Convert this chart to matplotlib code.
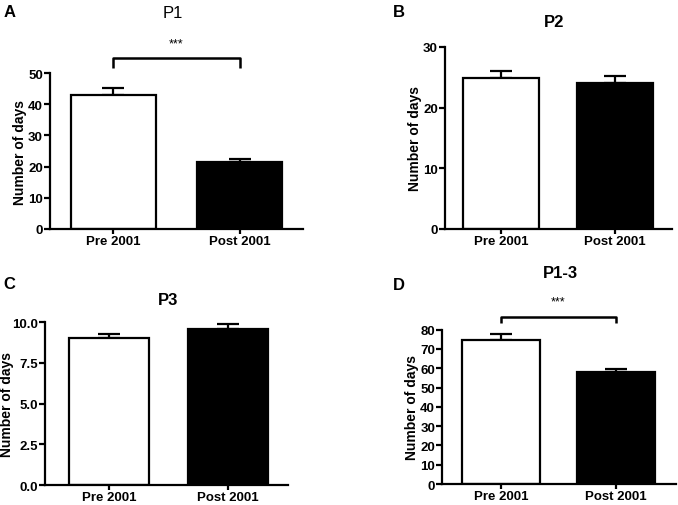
import numpy as np
import matplotlib
matplotlib.use("Agg")
import matplotlib.pyplot as plt

plt.rcParams['font.family'] = ['Liberation Sans', 'DejaVu Sans']

groups = ['Pre 2001', 'Post 2001']

# mean and error
p1_mean = [42.9, 21.4]
p1_err = [2.2, 1.0]
p2_mean = [24.9, 24.1]
p2_err = [1.1, 1.1]
p3_mean = [9.03, 9.59]
p3_err = [0.28, 0.33]
p13_mean = [74.7, 57.9]
p13_err = [2.9, 1.7]

p1_ticks = [0, 10, 20, 30, 40, 50]
p2_ticks = [0, 10, 20, 30]
p3_ticks = [0.0, 2.5, 5.0, 7.5, 10.0]
p13_ticks = [0, 10, 20, 30, 40, 50, 60, 70, 80]

fig = plt.figure(figsize=(6.78, 5.06), dpi=100)

def panel(rect, mean, err, ticks, fmt, xlim, width):
    ax = fig.add_axes(rect)
    x = np.arange(len(groups))
    ax.bar(x, mean, width=width, color=['white', 'black'], edgecolor='black',
           linewidth=1.6, zorder=2)
    ax.errorbar(x, mean, yerr=[[0, 0], err], fmt='none', ecolor='black',
                elinewidth=1.6, capsize=8, capthick=1.6, zorder=1)
    ax.set_xlim(*xlim)
    ax.set_ylim(ticks[0], ticks[-1])
    ax.set_yticks(ticks)
    ax.set_yticklabels([fmt.format(t) for t in ticks])
    ax.set_xticks(x)
    ax.set_xticklabels(groups)
    for s in ['top', 'right']:
        ax.spines[s].set_visible(False)
    for s in ['left', 'bottom']:
        ax.spines[s].set_linewidth(1.6)
    ax.tick_params(width=1.6, length=4, labelsize=9.5, pad=1)
    ax.tick_params(axis='x', length=3.5, pad=0.5)
    for lab in ax.get_xticklabels() + ax.get_yticklabels():
        lab.set_fontweight('bold')
    ax.set_ylabel('Number of days', fontsize=10, fontweight='bold', labelpad=1)
    return ax

def bracket(ax, y, drop, text_y):
    ax.plot([0, 0, 1, 1], [y - drop, y, y, y - drop], color='black',
            linewidth=1.8, clip_on=False, solid_capstyle='butt')
    ax.text(0.5, text_y, '***', ha='center', va='center', fontsize=9)

axA = panel([0.0737, 0.5455, 0.373, 0.308], p1_mean, p1_err, p1_ticks,
            '{:d}', (-0.5, 1.5), 0.67)
bracket(axA, 54.7, 3.2, 59.5)
fig.text(0.255, 0.988, 'P1', ha='center', va='top', fontsize=12)
fig.text(0.005, 0.99, 'A', ha='left', va='top', fontsize=12, fontweight='bold')

axB = panel([0.6563, 0.5455, 0.335, 0.3597], p2_mean, p2_err, p2_ticks,
            '{:d}', (-0.49, 1.5), 0.67)
fig.text(0.817, 0.955, 'P2', ha='center', va='center', fontsize=12,
         fontweight='bold')
fig.text(0.58, 0.975, 'B', ha='left', va='center', fontsize=12, fontweight='bold')

axC = panel([0.0664, 0.0395, 0.358, 0.3216], p3_mean, p3_err, p3_ticks,
            '{:.1f}', (-0.54, 1.5), 0.67)
axC.yaxis.set_label_coords(-0.128, 0.5)
fig.text(0.248, 0.407, 'P3', ha='center', va='center', fontsize=12,
         fontweight='bold')
fig.text(0.005, 0.437, 'C', ha='left', va='center', fontsize=12, fontweight='bold')

axD = panel([0.652, 0.0415, 0.345, 0.305], p13_mean, p13_err, p13_ticks,
            '{:d}', (-0.51, 1.52), 0.675)
bracket(axD, 86.5, 3.1, 94.5)
fig.text(0.827, 0.46, 'P1-3', ha='center', va='center', fontsize=12,
         fontweight='bold')
fig.text(0.58, 0.435, 'D', ha='left', va='center', fontsize=12, fontweight='bold')

fig.savefig('out.png', dpi=100)
